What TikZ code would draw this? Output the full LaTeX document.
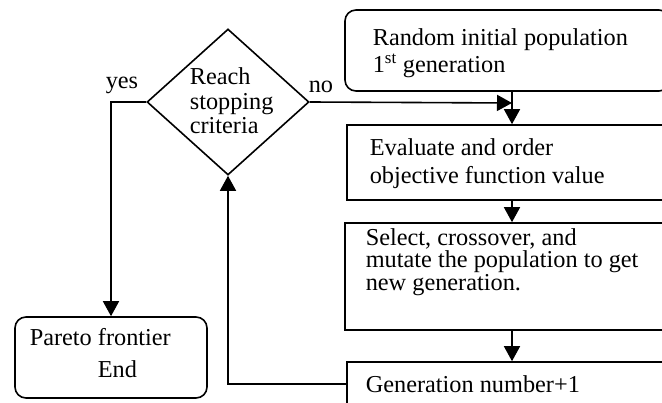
\documentclass[tikz,border=0pt]{standalone}
\usepackage{fontspec}
\setmainfont{Liberation Serif}
\usetikzlibrary{arrows.meta,shapes.geometric}

\begin{document}
\begin{tikzpicture}[x=1pt,y=-1pt,
  line width=1.6pt,
  box/.style={draw,rectangle,inner sep=0pt},
  roundbox/.style={box,rounded corners=11pt},
  decision/.style={draw,diamond,inner sep=0pt},
  lbl/.style={anchor=base west,inner sep=0pt,font=\fontsize{24.3}{25}\selectfont},
  arr/.style={-{Triangle[length=15pt,width=16pt]}}]

\useasboundingbox (0,0) rectangle (662,403);
\clip (0,0) rectangle (662,403);

% process boxes (they run past the right edge)
\node[roundbox,minimum width=325pt,minimum height=81pt] (b1) at (507.5,50.5) {};
\node[box,minimum width=333pt,minimum height=75pt] (b2) at (513.5,162.5) {};
\node[box,minimum width=335pt,minimum height=107pt] (b3) at (512.5,276.5) {};
\node[box,minimum width=333pt,minimum height=44pt] (b4) at (513.5,384) {};

% decision and terminal
\node[decision,minimum width=162pt,minimum height=146pt] (d) at (228,102) {};
\node[roundbox,minimum width=192pt,minimum height=81pt] (pf) at (111,357.5) {};

% texts
\node[lbl] (t1a) at (372,46) {Random initial population};
\node[lbl] (t1b) at (372,73) {1\textsuperscript{st} generation};
\node[lbl] (t2a) at (369,155.5) {Evaluate and order};
\node[lbl] (t2b) at (369,184) {objective function value};
\node[lbl] (t3a) at (365,245.5) {Select, crossover, and};
\node[lbl] (t3b) at (365,268) {mutate the population to get};
\node[lbl] (t3c) at (365,290.5) {new generation.};
\node[lbl] (t4) at (365,393) {Generation number+1};
\node[lbl] (tda) at (189,85) {Reach};
\node[lbl] (tdb) at (189,110) {stopping};
\node[lbl] (tdc) at (189,134) {criteria};
\node[lbl] (tpa) at (29,346) {Pareto frontier};
\node[lbl] (tpb) at (97,378) {End};
\node[lbl] (yes) at (105,89) {yes};
\node[lbl] (no) at (308,93) {no};

% connectors
\coordinate (jn) at (512,103);
\draw[arr] (d.east) -- (jn);
\draw[arr] (b1.south -| jn) -- (b2.north -| jn);
\draw[arr] (b2.south -| jn) -- (b3.north -| jn);
\draw[arr] (b3.south -| jn) -- (b4.north -| jn);
\draw[arr] (d.west) -| (pf.north);
\draw[arr] (b4.west) -| (d.south);
\end{tikzpicture}
\end{document}
